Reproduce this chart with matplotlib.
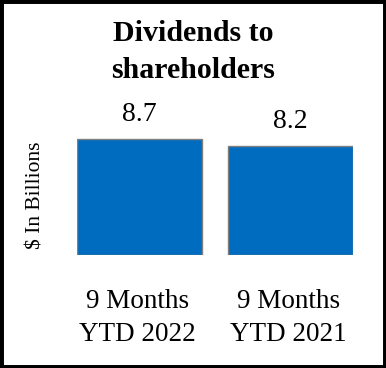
import matplotlib
matplotlib.use("Agg")
import matplotlib.pyplot as plt
from matplotlib.patches import Rectangle

categories = ["9 Months\nYTD 2022", "9 Months\nYTD 2021"]
values = [8.7, 8.2]
value_labels = ["8.7", "8.2"]
title = "Dividends to\nshareholders"
ylabel = "$ In Billions"

W, H = 386, 368
fig = plt.figure(figsize=(W / 100, H / 100), dpi=100)
plt.rcParams['font.family'] = ['Liberation Serif', 'DejaVu Serif']

# axes: x from 77 to 353 px, y baseline at 255 px, top at 121.5 px (ylim 0..10)
left, right = 77 / W, 353 / W
bottom = (H - 255) / H
top = (H - 121.5) / H
ax = fig.add_axes([left, bottom, right - left, top - bottom])
x = list(range(len(categories)))
bars = ax.bar(x, values, width=0.828, color="#006CBF", edgecolor="#7F7F7F", linewidth=1.0)
ax.set_xlim(-0.414, 1.414)
ax.set_ylim(0, 10)
ax.axis("off")

for xi, v, lab in zip(x, values, value_labels):
    ax.annotate(lab, xy=(xi, v), xytext=(0, 24), textcoords="offset pixels",
                ha="center", va="center", fontsize=20, color="black")

for xi, cat in zip(x, categories):
    ax.annotate(cat, xy=(xi, 0), xytext=(-2, -63), textcoords="offset pixels",
                ha="center", va="center", fontsize=19.5, linespacing=1.4, color="black")

fig.text(0.5, 1 - 52 / H, title, ha="center", va="center", fontsize=21.5,
         fontweight="bold", linespacing=1.5)
fig.text(36 / W, 1 - 195 / H, ylabel, rotation=90, ha="center", va="center", fontsize=15.5)

fig.patches.append(Rectangle((0, 0), 1, 1, transform=fig.transFigure, fill=False,
                             edgecolor="black", linewidth=5.0, clip_on=False))

fig.savefig("out.png", dpi=100, facecolor="white")
